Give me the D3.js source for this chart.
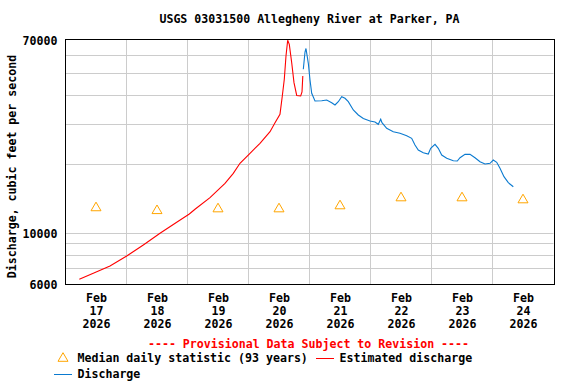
<!DOCTYPE html>
<html>
<head>
<meta charset="utf-8">
<script src="https://cdn.jsdelivr.net/npm/d3@7"></script>
<style>
  html, body { margin: 0; padding: 0; background: #fff; }
  svg text { font-family: "DejaVu Sans Mono", monospace; font-weight: bold; font-size: 11.6px; fill: #000; }
</style>
</head>
<body>
<svg id="chart" width="576" height="384"></svg>
<script>
// ---------- data ----------
const title = "USGS 03031500 Allegheny River at Parker, PA";
const yTitle = "Discharge, cubic feet per second";
const yTickValues = [6000, 10000, 70000];
const yGridValues = [7000, 8000, 9000, 10000, 20000, 30000, 40000, 50000, 60000];
const xDomain = ["2026-02-17 00:00", "2026-02-25 00:00"];
const dayTicks = ["2026-02-17 12:00", "2026-02-18 12:00", "2026-02-19 12:00", "2026-02-20 12:00",
                  "2026-02-21 12:00", "2026-02-22 12:00", "2026-02-23 12:00", "2026-02-24 12:00"];
const dayGrid = ["2026-02-18 00:00", "2026-02-19 00:00", "2026-02-20 00:00", "2026-02-21 00:00",
                 "2026-02-22 00:00", "2026-02-23 00:00", "2026-02-24 00:00"];

const medianTimes = dayTicks;
const medianValues = [13100, 12730, 12960, 12960, 13360, 14480, 14480, 14190];

const estTimes = ["2026-02-17 05:26","2026-02-17 10:56","2026-02-17 17:30","2026-02-18 00:05","2026-02-18 06:37",
  "2026-02-18 13:11","2026-02-18 19:45","2026-02-19 00:43","2026-02-19 02:57","2026-02-19 08:51",
  "2026-02-19 14:45","2026-02-19 18:01","2026-02-19 20:39","2026-02-20 00:35","2026-02-20 04:31",
  "2026-02-20 08:28","2026-02-20 10:26","2026-02-20 12:23","2026-02-20 13:18","2026-02-20 14:05",
  "2026-02-20 14:45","2026-02-20 15:25","2026-02-20 16:03","2026-02-20 17:00","2026-02-20 17:54",
  "2026-02-20 18:58","2026-02-20 20:32","2026-02-20 21:03","2026-02-20 21:22"];
const estValues = [6290, 6680, 7190, 7950, 8890,
  10000, 11170, 12140, 12730, 14310,
  16540, 18290, 20230, 22370, 24740,
  27810, 30400, 33130, 39830, 47140,
  59580, 69800, 67030, 55690, 45550,
  40040, 39830, 41470, 48730];

const qTimes = ["2026-02-20 21:34","2026-02-20 22:14","2026-02-20 22:37","2026-02-20 23:32","2026-02-21 00:12",
  "2026-02-21 00:52","2026-02-21 02:10","2026-02-21 04:48","2026-02-21 06:46","2026-02-21 08:44",
  "2026-02-21 10:02","2026-02-21 11:20","2026-02-21 12:40","2026-02-21 13:58","2026-02-21 15:16",
  "2026-02-21 17:14","2026-02-21 19:12","2026-02-21 21:10","2026-02-21 23:48","2026-02-22 01:46",
  "2026-02-22 03:04","2026-02-22 04:01","2026-02-22 04:31","2026-02-22 06:22","2026-02-22 08:58",
  "2026-02-22 11:36","2026-02-22 14:15","2026-02-22 16:12","2026-02-22 17:30","2026-02-22 18:48",
  "2026-02-22 20:46","2026-02-22 22:44","2026-02-22 23:41","2026-02-23 01:23","2026-02-23 02:40",
  "2026-02-23 04:01","2026-02-23 05:59","2026-02-23 08:35","2026-02-23 10:09","2026-02-23 11:13",
  "2026-02-23 13:11","2026-02-23 15:09","2026-02-23 17:07","2026-02-23 19:05","2026-02-23 21:03",
  "2026-02-23 23:01","2026-02-24 00:19","2026-02-24 01:39","2026-02-24 02:57","2026-02-24 04:31",
  "2026-02-24 06:13","2026-02-24 08:11"];
const qValues = [52120, 62040, 64260, 55360, 46800,
  40930, 37880, 37990, 38260, 37230,
  36380, 37610, 39550, 38920, 37610,
  34590, 32900, 31760, 30970, 30660,
  29950, 31510, 30440, 28770, 27810,
  27360, 26710, 26020, 24320, 23120,
  22500, 22210, 23520, 24490, 23520,
  21990, 21270, 20760, 20700, 21400,
  22140, 22140, 21400, 20550, 20090,
  20230, 20910, 20430, 19240, 17680,
  16640, 15980];

const legendMedian = "Median daily statistic (93 years)";
const legendEst = "Estimated discharge";
const legendQ = "Discharge";
const provisional = "---- Provisional Data Subject to Revision ----";

// ---------- layout ----------
const pL = 65.5, pR = 553.5, pT = 40, pB = 284;
const parse = d3.utcParse("%Y-%m-%d %H:%M");
const x = d3.scaleUtc().domain(xDomain.map(parse)).range([pL, pR]);
const y = d3.scaleLog().domain([6000, 70000]).range([pB, pT]);
const svg = d3.select("#chart");

// gridlines
const crisp = v => Math.round(v - 0.5) + 0.5;
svg.append("g").selectAll("line").data(yGridValues).join("line")
  .attr("x1", pL).attr("x2", pR)
  .attr("y1", d => crisp(y(d))).attr("y2", d => crisp(y(d)))
  .attr("stroke", "#cccccc").attr("stroke-width", 1);
svg.append("g").selectAll("line").data(dayGrid.map(parse)).join("line")
  .attr("x1", d => crisp(x(d))).attr("x2", d => crisp(x(d)))
  .attr("y1", pT).attr("y2", pB)
  .attr("stroke", "#cccccc").attr("stroke-width", 1);

// lines
const line = d3.line().x(d => x(d[0])).y(d => y(d[1]));
const est = estTimes.map((t, i) => [parse(t), estValues[i]]);
const q = qTimes.map((t, i) => [parse(t), qValues[i]]);
svg.append("path").datum(est).attr("d", line)
  .attr("fill", "none").attr("stroke", "#ff0000").attr("stroke-width", 1.1);
svg.append("path").datum(q).attr("d", line)
  .attr("fill", "none").attr("stroke", "#0a7ad0").attr("stroke-width", 1.1);

// median triangles
const tri = "M-5,4.3L5,4.3L0,-4.3Z";
svg.append("g").selectAll("path").data(medianTimes.map((t, i) => [parse(t), medianValues[i]])).join("path")
  .attr("d", tri)
  .attr("transform", d => `translate(${x(d[0])},${y(d[1])})`)
  .attr("fill", "none").attr("stroke", "#ffa500").attr("stroke-width", 1);

// frame
svg.append("rect").attr("x", pL).attr("y", pT - 0.5)
  .attr("width", pR - pL + 1).attr("height", pB - pT + 1)
  .attr("fill", "none").attr("stroke", "#000").attr("stroke-width", 1);

// y axis labels
const yAxis = d3.axisLeft(y).tickValues(yTickValues).tickFormat(d3.format("d")).tickSize(0).tickPadding(8);
const gy = svg.append("g").attr("transform", `translate(${pL},0)`).call(yAxis);
gy.select(".domain").remove();
gy.attr("font-family", null).attr("font-size", null);
gy.selectAll("text").attr("dy", "0.36em");

// x axis labels (three lines)
const xAxis = d3.axisBottom(x).tickValues(dayTicks.map(parse)).tickSize(0).tickFormat("");
const gx = svg.append("g").attr("transform", `translate(0,${pB})`).call(xAxis);
gx.select(".domain").remove();
gx.attr("font-family", null).attr("font-size", null);
gx.selectAll(".tick").each(function(d) {
  const t = d3.select(this).select("text").attr("y", 0).attr("dy", null);
  const lines = [d3.utcFormat("%b")(d), d3.utcFormat("%d")(d), d3.utcFormat("%Y")(d)];
  lines.forEach((s, i) => t.append("tspan").attr("x", 0).attr("y", 18 + i * 13).text(s));
});

// titles
svg.append("text").attr("x", 309.5).attr("y", 23).attr("text-anchor", "middle").text(title);
svg.append("text").attr("transform", "translate(15.5,166.5) rotate(-90)")
  .attr("text-anchor", "middle").text(yTitle);
svg.append("text").attr("x", 308.5).attr("y", 348).attr("text-anchor", "middle")
  .style("fill", "#ff0000").text(provisional);

// legend
svg.append("path").attr("d", tri).attr("transform", "translate(63,357)")
  .attr("fill", "none").attr("stroke", "#ffa500").attr("stroke-width", 1);
svg.append("text").attr("x", 77.5).attr("y", 362).text(legendMedian);
svg.append("line").attr("x1", 316).attr("x2", 334).attr("y1", 358.5).attr("y2", 358.5)
  .attr("stroke", "#ff0000").attr("stroke-width", 1);
svg.append("text").attr("x", 339.5).attr("y", 362).text(legendEst);
svg.append("line").attr("x1", 54).attr("x2", 72).attr("y1", 374.5).attr("y2", 374.5)
  .attr("stroke", "#0a7ad0").attr("stroke-width", 1);
svg.append("text").attr("x", 77.5).attr("y", 378).text(legendQ);
</script>
</body>
</html>
